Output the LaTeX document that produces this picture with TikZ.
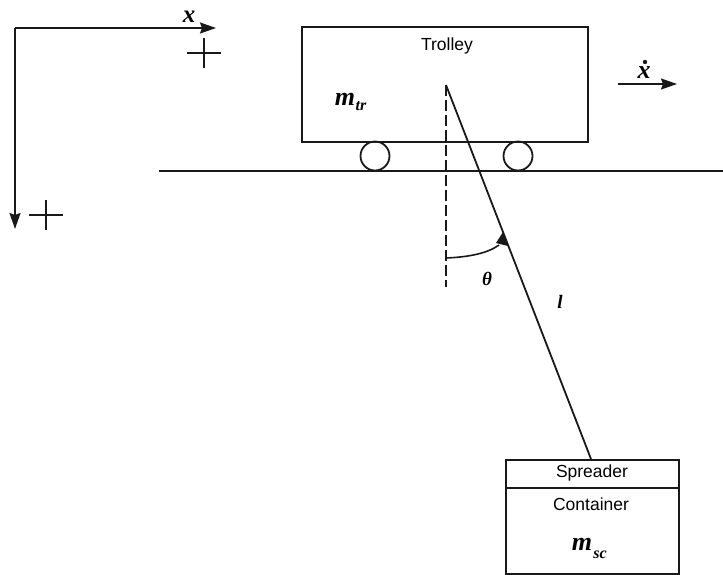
\documentclass[tikz,border=0pt]{standalone}
\usepackage{fontspec}
\setmainfont{Liberation Sans}
\newfontfamily\serifbi{Liberation Serif}[ItalicFont={Liberation Serif Bold Italic}]
\usetikzlibrary{arrows.meta}
\tikzset{
  ink/.style={line width=1.8pt,black!90},
  arrowtip/.style={-{Stealth[length=16pt,width=11pt,inset=2pt]}},
  boxn/.style={draw,ink,inner sep=0pt,anchor=north west},
  wheel/.style={draw,ink,circle,minimum size=29pt,inner sep=0pt},
  lab/.style={font=\fontsize{17.5}{20}\selectfont,inner sep=0pt},
  mathlab/.style={font=\fontsize{#1}{20}\selectfont\serifbi\itshape,inner sep=0pt},
  thinplus/.style={line width=1.5pt,black!90}
}
\begin{document}
\begin{tikzpicture}[x=1pt,y=-1pt]
\useasboundingbox (0,0) rectangle (723,574);
% axes
\coordinate (origin) at (15,28);
\coordinate (xend) at (216,28);
\coordinate (yend) at (15,229);
\draw[ink,arrowtip] (origin) -- (xend);
\draw[ink,arrowtip] (origin) -- (yend);
\node[mathlab=25] (xlab) at (189,17) {x};
\coordinate (pa) at (204,53);
\draw[thinplus] ([xshift=-17pt]pa) -- ([xshift=17pt]pa) ([yshift=-15pt]pa) -- ([yshift=15pt]pa);
\coordinate (pb) at (46,215);
\draw[thinplus] ([xshift=-17pt]pb) -- ([xshift=17pt]pb) ([yshift=-15pt]pb) -- ([yshift=15pt]pb);
% trolley
\node[boxn,minimum width=286pt,minimum height=115pt] (trolley) at (301,26) {};
\node[lab] (tl) at (447,46) {Trolley};
\node[mathlab=26] (mtr) at (345,99) {m};
\node[mathlab=16] (mtrs) at (361,106) {tr};
% ground and wheels
\coordinate (g1) at (159,171);
\coordinate (g2) at (723,171);
\draw[ink] (g1) -- (g2);
\node[wheel] (w1) at (375,156) {};
\node[wheel] (w2) at (518,156) {};
% pendulum
\coordinate (pivot) at (446,85);
\coordinate (dashend) at (446,287);
\coordinate (arcstart) at (446,258);
\coordinate (arcend) at (499,245);
\draw[ink,dash pattern=on 11pt off 4pt] (pivot) -- (dashend);
\node[boxn,minimum width=173pt,minimum height=28pt] (spreader) at (505,459) {};
\node[boxn,minimum width=173pt,minimum height=86pt] (container) at (505,487) {};
\coordinate (ropeend) at (591,459);
\draw[ink] (pivot) -- (ropeend);
\draw[line width=1.6pt,black!90] (arcstart) .. controls (470,257) and (488,253) .. (arcend);
\fill[black!90] (503,232) -- (496,243) -- (508,246) -- cycle;
\node[mathlab=19] (theta) at (487,279) {θ};
\node[mathlab=19] (ell) at (560,302) {l};
\node[lab] (sp) at (592,473) {Spreader};
\node[lab] (co) at (591,504) {Container};
\node[mathlab=26] (msc) at (582,544) {m};
\node[mathlab=16] (mscs) at (600,555) {sc};
% velocity
\coordinate (v1) at (618,84);
\coordinate (v2) at (677,84);
\draw[ink,arrowtip] (v1) -- (v2);
\node[mathlab=26] (vx) at (644,73) {x};
\fill[black!90] (645,62) circle (2.2pt);
\end{tikzpicture}
\end{document}
